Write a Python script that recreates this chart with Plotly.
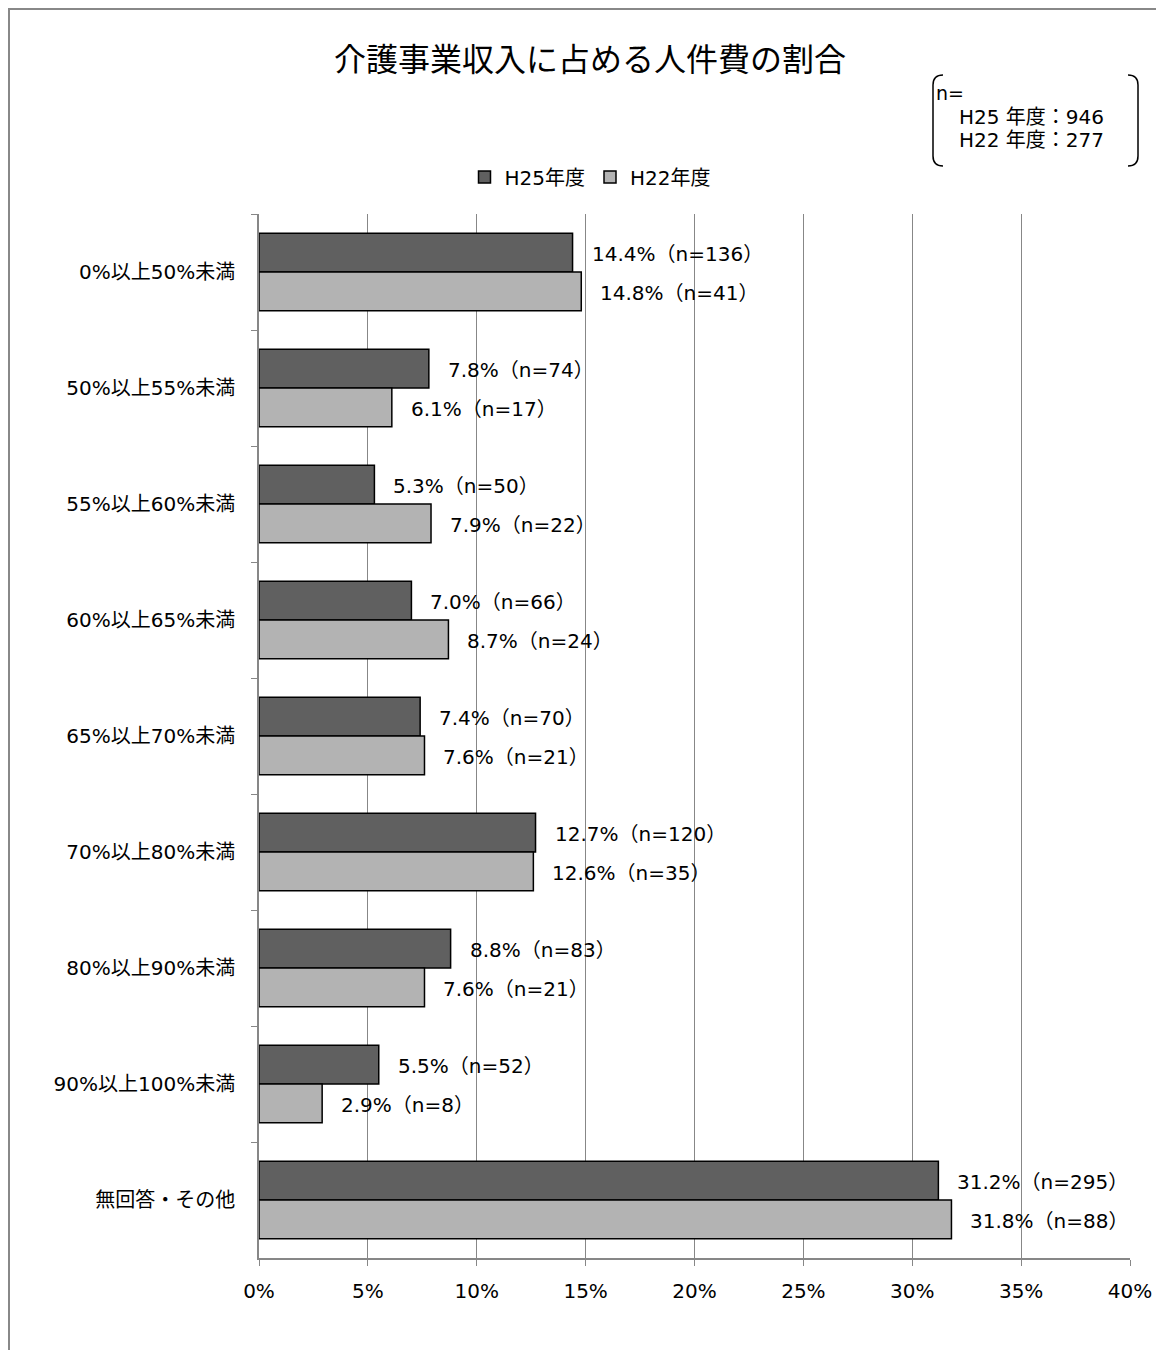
import plotly.graph_objects as go

categories = ['0%以上50%未満', '50%以上55%未満', '55%以上60%未満', '60%以上65%未満',
              '65%以上70%未満', '70%以上80%未満', '80%以上90%未満', '90%以上100%未満',
              '無回答・その他']
h25_pct = [14.4, 7.8, 5.3, 7.0, 7.4, 12.7, 8.8, 5.5, 31.2]
h25_n = [136, 74, 50, 66, 70, 120, 83, 52, 295]
h22_pct = [14.8, 6.1, 7.9, 8.7, 7.6, 12.6, 7.6, 2.9, 31.8]
h22_n = [41, 17, 22, 24, 21, 35, 21, 8, 88]
series_names = ['H25年度', 'H22年度']
n_totals = ['H25 年度：946', 'H22 年度：277']

FONT = 'DejaVu Sans, Noto Sans CJK JP'
OFF = 8  # page body margin
W, H = 1148, 1342
L, R, T, B = 251, 26, 206, 92


def px(x):
    # page x (as in the screenshot) -> paper coords
    return (x - OFF - L) / (W - L - R)


def py(y):
    return (H - B - (y - OFF)) / (H - T - B)


fig = go.Figure()
fig.add_trace(go.Bar(y=categories, x=h25_pct, name=series_names[0], orientation='h',
                     marker=dict(color='#606060', line=dict(color='#000000', width=1.5))))
fig.add_trace(go.Bar(y=categories, x=h22_pct, name=series_names[1], orientation='h',
                     marker=dict(color='#b3b3b3', line=dict(color='#000000', width=1.5))))

# value labels to the right of each bar
for cat, v, n in zip(categories, h25_pct, h25_n):
    fig.add_annotation(x=v, y=cat, text=f'{v:.1f}%（n={n}）', showarrow=False,
                       xanchor='left', xshift=17, yshift=18,
                       font=dict(family=FONT, size=20, color='#000000'))
for cat, v, n in zip(categories, h22_pct, h22_n):
    fig.add_annotation(x=v, y=cat, text=f'{v:.1f}%（n={n}）', showarrow=False,
                       xanchor='left', xshift=17, yshift=-21,
                       font=dict(family=FONT, size=20, color='#000000'))

# n= box
fig.add_annotation(xref='paper', yref='paper', x=px(934), y=py(93), text='n=',
                   showarrow=False, xanchor='left', yanchor='middle',
                   font=dict(family=FONT, size=19, color='#000000'))
for i, t in enumerate(n_totals):
    fig.add_annotation(xref='paper', yref='paper', x=px(957), y=py(117 + 23 * i), text=t,
                       showarrow=False, xanchor='left', yanchor='middle',
                       font=dict(family=FONT, size=20, color='#000000'))

lb = (f'M {px(943)},{py(75)} Q {px(933)},{py(75)} {px(933)},{py(85)} '
      f'L {px(933)},{py(156)} Q {px(933)},{py(166)} {px(943)},{py(166)}')
rb = (f'M {px(1128)},{py(75)} Q {px(1138)},{py(75)} {px(1138)},{py(85)} '
      f'L {px(1138)},{py(156)} Q {px(1138)},{py(166)} {px(1128)},{py(166)}')
for p in (lb, rb):
    fig.add_shape(type='path', path=p, xref='paper', yref='paper',
                  line=dict(color='#000000', width=1.5))

# outer frame (top and left edges)
fig.add_shape(type='path', xref='paper', yref='paper',
              path=f'M {px(9)},{py(1400)} L {px(9)},{py(9)} L {px(1200)},{py(9)}',
              line=dict(color='#888888', width=2))

fig.update_layout(
    width=W, height=H,
    margin=dict(l=L, r=R, t=T, b=B),
    paper_bgcolor='white', plot_bgcolor='white',
    barmode='group', bargap=0.33, bargroupgap=0,
    font=dict(family=FONT, size=20, color='#000000'),
    title=dict(text='介護事業収入に占める人件費の割合', x=(590 - OFF) / W, xanchor='center',
               y=1 - (60 - OFF) / H, yanchor='middle',
               font=dict(family=FONT, size=32, color='#000000')),
    legend=dict(orientation='h', xref='container', yref='container', x=(590 - OFF) / W,
                xanchor='center', y=1 - (177 - OFF) / H, yanchor='middle',
                font=dict(family=FONT, size=20), itemwidth=30, traceorder='normal'),
    xaxis=dict(range=[0, 40], dtick=5, ticksuffix='%', showgrid=True, gridcolor='#878787',
               gridwidth=1, zeroline=False, showline=True, linecolor='#878787', linewidth=1.5,
               ticks='outside', ticklen=6, tickcolor='#878787', tickfont=dict(size=20),
               ticklabelstandoff=8, automargin=False),
    yaxis=dict(autorange='reversed', showline=True, linecolor='#878787', linewidth=1.5,
               ticks='outside', ticklen=6, tickcolor='#878787', tickson='boundaries',
               tickfont=dict(size=20), ticklabelstandoff=18, showgrid=False, automargin=False),
)

fig.write_html('out.html')
